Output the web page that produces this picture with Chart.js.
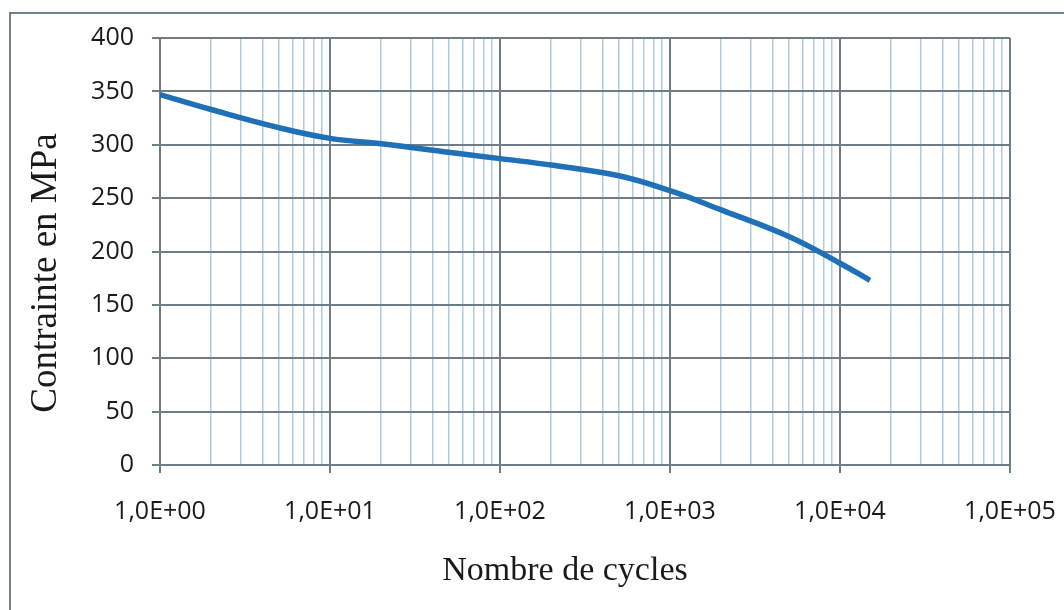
<!DOCTYPE html>
<html>
<head>
<meta charset="utf-8">
<script src="https://cdn.jsdelivr.net/npm/chart.js@4.4.1/dist/chart.umd.min.js"></script>
<style>
    body { margin: 0; background: #fff; }
    #wrap { width: 1064px; height: 610px; }
</style>
</head>
<body>
<div id="wrap"><canvas id="woehler" width="1064" height="610"></canvas></div>
<script>
// Courbe de fatigue : contrainte (MPa) en fonction du nombre de cycles
const cycles = [1, 2, 5, 10, 20, 50, 100, 200, 500, 1000, 2000, 5000, 10000, 15000];
const stress = [347, 333, 316, 306, 301, 293, 287, 281, 271, 257, 239, 214, 189, 173];

const xTickLabels = ["1,0E+00", "1,0E+01", "1,0E+02", "1,0E+03", "1,0E+04", "1,0E+05"];
const yTicks = [0, 50, 100, 150, 200, 250, 300, 350, 400];
const xTitle = "Nombre de cycles";
const yTitle = "Contrainte en MPa";

const majorGrid = "#6f7d86";
const minorGrid = "#b0cbe0";
const textColor = "#1a1a1a";
const tickFont = { family: "\"Open Sans\", sans-serif", size: 25 };
const serif = "\"Liberation Serif\", \"Times New Roman\", serif";

function isDecade(value) {
    const e = Math.log10(value);
    return Math.abs(e - Math.round(e)) < 1e-9;
}

// 1..9 x 10^n for each decade, then the last decade line
function logGridValues() {
    const values = [];
    for (let d = 0; d < xTickLabels.length - 1; d++) {
        for (let k = 1; k <= 9; k++) {
            values.push(k * Math.pow(10, d));
        }
    }
    values.push(Math.pow(10, xTickLabels.length - 1));
    return values;
}

// white background, outer chart border and the two axis titles
const frame = {
    id: "frame",
    beforeDraw(chart) {
        const ctx = chart.ctx;
        ctx.save();
        ctx.fillStyle = "#fff";
        ctx.fillRect(0, 0, chart.width, chart.height);
        ctx.strokeStyle = "#71808a";
        ctx.lineWidth = 2;
        ctx.strokeRect(10, 13, 1080, 620);
        ctx.restore();
    },
    afterDraw(chart) {
        const ctx = chart.ctx;
        ctx.save();
        ctx.fillStyle = textColor;
        ctx.textAlign = "center";
        ctx.textBaseline = "middle";

        ctx.font = "34px " + serif;
        ctx.fillText(xTitle, 565, 571);

        ctx.translate(46, 273);
        ctx.rotate(-Math.PI / 2);
        ctx.font = "37px " + serif;
        ctx.fillText(yTitle, 0, 0);
        ctx.restore();
    }
};

new Chart(document.getElementById("woehler"), {
    type: "scatter",
    data: {
        datasets: [{
            data: cycles.map((c, i) => ({ x: c, y: stress[i] })),
            showLine: true,
            borderColor: "#1f70b6",
            borderWidth: 5.5,
            pointRadius: 0,
            tension: 0.4,
            fill: false
        }]
    },
    options: {
        responsive: false,
        animation: false,
        layout: {
            padding: { left: 10, top: 38, right: 54, bottom: 0 }
        },
        plugins: {
            legend: { display: false },
            tooltip: { enabled: false }
        },
        scales: {
            x: {
                type: "logarithmic",
                min: 1,
                max: 100000,
                afterBuildTicks(scale) {
                    scale.ticks = logGridValues().map(value => ({ value }));
                },
                afterFit(scale) {
                    scale.height = 145;
                    scale.paddingLeft = 0;
                    scale.paddingRight = 0;
                },
                grid: {
                    color: ctx => isDecade(ctx.tick.value) ? majorGrid : minorGrid,
                    lineWidth: ctx => isDecade(ctx.tick.value) ? 2 : 1.5,
                    tickColor: ctx => isDecade(ctx.tick.value) ? majorGrid : "rgba(0,0,0,0)",
                    tickLength: 8
                },
                border: { color: majorGrid, width: 2 },
                ticks: {
                    autoSkip: false,
                    maxRotation: 0,
                    padding: 24,
                    color: textColor,
                    font: tickFont,
                    callback: value => isDecade(value) ? xTickLabels[Math.round(Math.log10(value))] : ""
                }
            },
            y: {
                min: yTicks[0],
                max: yTicks[yTicks.length - 1],
                afterFit(scale) {
                    scale.width = 150;
                },
                afterBuildTicks(scale) {
                    scale.ticks = yTicks.map(value => ({ value }));
                },
                grid: {
                    color: majorGrid,
                    lineWidth: 2,
                    tickLength: 8
                },
                border: { color: majorGrid, width: 2 },
                ticks: {
                    padding: 18,
                    color: textColor,
                    font: tickFont
                }
            }
        }
    },
    plugins: [frame]
});
</script>
</body>
</html>
